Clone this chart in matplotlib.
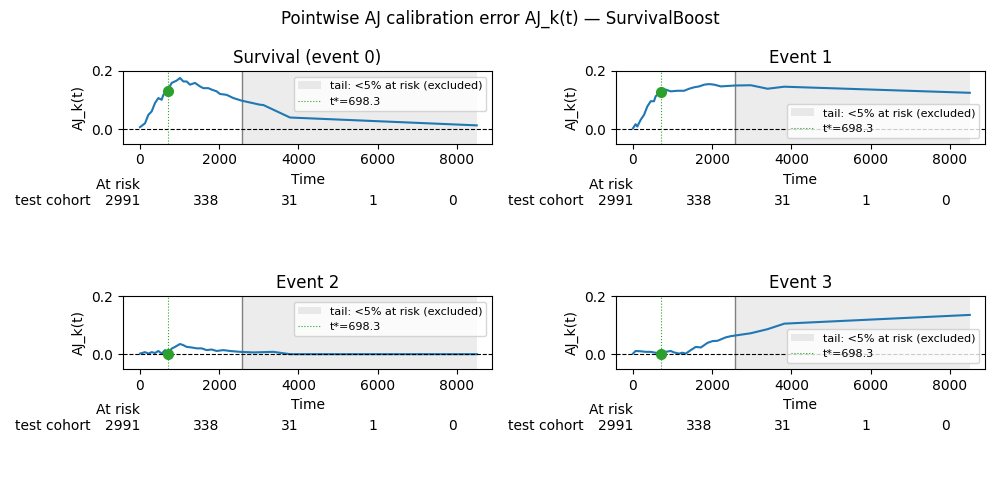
import matplotlib
matplotlib.use("Agg")
import matplotlib.pyplot as plt
import numpy as np

# pointwise AJ calibration error
t_surv = [0, 126, 210, 295, 379, 463, 547, 589, 690, 799, 925, 1010, 1094, 1178, 1262,
          1388, 1514, 1598, 1724, 1809, 1935, 2019, 2187, 2355, 2565, 3029, 3113, 3786, 8498]
aj_surv = [0.007, 0.020, 0.049, 0.061, 0.090, 0.107, 0.101, 0.118, 0.130, 0.159, 0.167, 0.176,
           0.164, 0.164, 0.153, 0.159, 0.147, 0.141, 0.141, 0.136, 0.130, 0.121, 0.118, 0.107,
           0.098, 0.084, 0.083, 0.040, 0.013]

t_ev1 = [0, 66, 110, 193, 278, 362, 446, 530, 572, 699, 825, 952, 1121, 1290, 1416, 1543,
         1670, 1797, 1923, 2050, 2218, 2556, 2974, 3396, 3820, 8500]
aj_ev1 = [0.003, 0.017, 0.009, 0.032, 0.049, 0.078, 0.096, 0.096, 0.113, 0.128, 0.136, 0.130,
          0.132, 0.132, 0.139, 0.144, 0.147, 0.153, 0.155, 0.153, 0.147, 0.150, 0.151, 0.139,
          0.146, 0.125]

t_ev2 = [0, 126, 210, 295, 379, 463, 547, 631, 690, 799, 883, 1010, 1094, 1178, 1304, 1430,
         1556, 1682, 1809, 1935, 2103, 2272, 2524, 2860, 3365, 3786, 8500]
aj_ev2 = [0.003, 0.008, 0.003, 0.008, 0.005, 0.012, 0.003, 0.015, 0.0, 0.020, 0.026, 0.036,
          0.032, 0.026, 0.024, 0.021, 0.021, 0.015, 0.017, 0.012, 0.015, 0.012, 0.009, 0.007,
          0.009, 0.001, 0.001]

t_ev3 = [0, 66, 193, 320, 446, 572, 699, 825, 952, 1037, 1163, 1247, 1332, 1458, 1585, 1712,
         1797, 1881, 2008, 2134, 2218, 2345, 2472, 2974, 3396, 3820, 8500]
aj_ev3 = [0.003, 0.012, 0.011, 0.009, 0.009, 0.006, 0.003, 0.009, 0.012, 0.007, 0.003, 0.006,
          0.003, 0.015, 0.026, 0.024, 0.032, 0.040, 0.046, 0.047, 0.052, 0.059, 0.063, 0.073,
          0.087, 0.106, 0.136]

titles = ["Survival (event 0)", "Event 1", "Event 2", "Event 3"]
times = [t_surv, t_ev1, t_ev2, t_ev3]
errors = [aj_surv, aj_ev1, aj_ev2, aj_ev3]
t_star = 698.3
aj_at_tstar = [0.130, 0.128, 0.0, 0.003]
legend_loc = ["upper right", "lower right", "upper right", "lower right"]

t_tail = 2565
t_max = 8500

risk_ticks = [0, 2000, 4000, 6000, 8000]
at_risk = [2991, 338, 31, 1, 0]

fig, axes = plt.subplots(2, 2, figsize=(10, 5), dpi=100)
plt.subplots_adjust(left=0.123, right=0.985, top=0.858, bottom=0.262,
                    wspace=0.336, hspace=2.1)
fig.suptitle("Pointwise AJ calibration error AJ_k(t) \u2014 SurvivalBoost", fontsize=12, y=0.98)

for ax, title, t, e, y0, loc in zip(axes.flat, titles, times, errors, aj_at_tstar, legend_loc):
    ax.axvspan(t_tail, t_max, color="gray", alpha=0.15, lw=0, label="tail: <5% at risk (excluded)")
    ax.axvline(t_tail, color="gray", lw=1)
    ax.plot(t, e, color="tab:blue", lw=1.5)
    ax.axhline(0, color="black", ls="--", lw=0.8)
    ax.axvline(t_star, color="tab:green", ls=":", lw=0.8, label="t*=%.1f" % t_star)
    ax.plot([t_star], [y0], "o", color="tab:green", ms=7)
    ax.set_ylim(-0.05, 0.2)
    ax.set_yticks([0.0, 0.2])
    ax.set_xlim(-429, 8884)
    ax.set_xticks(risk_ticks)
    ax.set_title(title, fontsize=12)
    ax.set_xlabel("Time")
    ax.set_ylabel("AJ_k(t)")
    ax.legend(loc=loc, fontsize=8)

    # at-risk table under the axis
    trans = ax.get_xaxis_transform()
    ax.text(risk_ticks[0], -0.57, "At risk", transform=trans, ha="right", va="center", fontsize=10)
    for xt, n in zip(risk_ticks, at_risk):
        ax.text(xt, -0.79, str(n), transform=trans, ha="right", va="center", fontsize=10)
    ax.text(-0.087, -0.79, "test cohort", transform=ax.transAxes, ha="right", va="center", fontsize=10)

fig.savefig("out.png", dpi=100)
